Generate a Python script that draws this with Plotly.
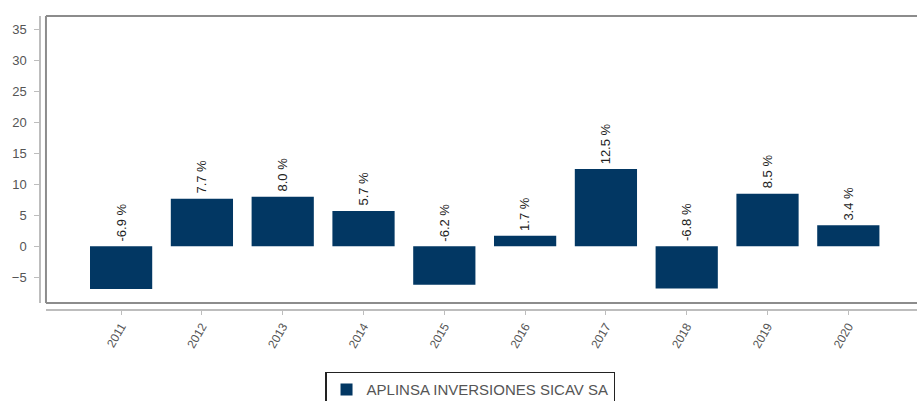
import plotly.graph_objs as go

# Yearly returns (%)
years = ['2011', '2012', '2013', '2014', '2015', '2016', '2017', '2018', '2019', '2020']
returns = [-6.9, 7.7, 8.0, 5.7, -6.2, 1.7, 12.5, -6.8, 8.5, 3.4]
series_name = 'APLINSA INVERSIONES SICAV SA'
y_ticks = [-5, 0, 5, 10, 15, 20, 25, 30, 35]

BAR_COLOR = '#023763'
GRID_GREY = '#bdbdbd'
BOX_GREY = '#8c8c8c'
TEXT_GREY = '#555555'

fig = go.Figure()

fig.add_trace(go.Bar(
    x=list(range(len(years))),
    y=returns,
    name=series_name,
    marker=dict(color=BAR_COLOR, line=dict(width=0)),
    width=0.77,
    showlegend=True,
))

# Value labels, rotated, sitting above the bar top (or above zero for negatives)
for i, v in enumerate(returns):
    fig.add_annotation(
        x=i, y=max(v, 0), xref='x', yref='y',
        text=f'{v:.1f} %',
        textangle=-90,
        showarrow=False,
        xanchor='center', yanchor='bottom',
        yshift=3,
        font=dict(family='Liberation Sans, Arial', size=13, color='#222222'),
    )

# Plot frame (right edge is cut off in the reference)
frame = dict(type='line', xref='x domain', yref='y domain',
             line=dict(color=BOX_GREY, width=2))
fig.add_shape(x0=0, x1=1, y0=1, y1=1, **frame)
fig.add_shape(x0=0, x1=1, y0=0, y1=0, **frame)
fig.add_shape(x0=0, x1=0, y0=0, y1=1, **frame)

fig.update_layout(
    width=917, height=401,
    margin=dict(l=40, r=0, t=16, b=91, autoexpand=False),
    paper_bgcolor='white',
    plot_bgcolor='white',
    font=dict(family='Liberation Sans, Arial', size=12, color=TEXT_GREY),
    bargap=0.23,
    xaxis=dict(
        domain=[0.0068, 1],
        range=[-0.93, 9.85],
        tickmode='array',
        tickvals=list(range(len(years))),
        ticktext=years,
        tickangle=-60,
        tickfont=dict(size=12, color=TEXT_GREY),
        showgrid=False, zeroline=False,
        showline=True, linecolor=GRID_GREY, linewidth=1.5,
        ticks='outside', ticklen=4, tickcolor=GRID_GREY,
        anchor='free', position=0,
    ),
    yaxis=dict(
        domain=[0.0238, 1],
        range=[-9.15, 37.2],
        tickmode='array',
        tickvals=y_ticks,
        tickfont=dict(size=13, color=TEXT_GREY),
        ticklabelstandoff=5,
        showgrid=False, zeroline=False,
        showline=True, linecolor=GRID_GREY, linewidth=1.5,
        ticks='outside', ticklen=5, tickcolor=GRID_GREY,
        anchor='free', position=0,
    ),
    legend=dict(
        orientation='h',
        x=0.325, xanchor='left',
        y=-0.21, yanchor='top',
        bordercolor='#222222', borderwidth=1.5,
        itemwidth=30,
        font=dict(size=15, color=TEXT_GREY),
    ),
)

# drop the default page margin so the figure sits at the window's top-left corner
fig.write_html(
    "out.html",
    config={'displayModeBar': False},
    post_script="document.body.style.margin='0';document.body.style.overflow='hidden';",
)
